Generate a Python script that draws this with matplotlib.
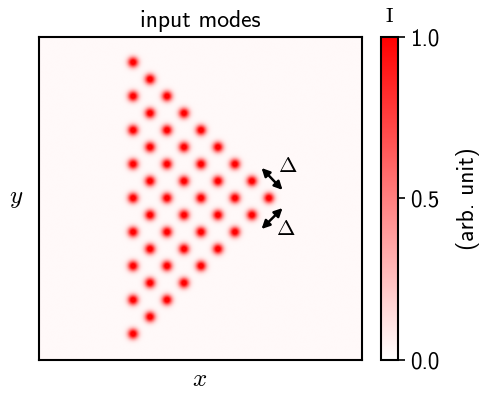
import numpy as np
import matplotlib
matplotlib.use('agg')
import matplotlib.pyplot as plt
from matplotlib.colors import LinearSegmentedColormap

plt.rcParams['mathtext.fontset'] = 'cm'
plt.rcParams['font.family'] = 'cmss10'
plt.rcParams['axes.unicode_minus'] = False

# triangular lattice of input modes, read column by column
col_x = [-0.42, -0.315, -0.21, -0.105, 0.0, 0.105, 0.21, 0.315, 0.42]
col_counts = [9, 8, 7, 6, 5, 4, 3, 2, 1]
row_pitch = 0.21
spot_sigma = 0.022
spot_peak = 1.15
background = 0.025

cbar_ticks = [0.0, 0.5, 1.0]

# build the intensity map
grid = np.linspace(-1, 1, 500)
X, Y = np.meshgrid(grid, grid)
intensity = np.full_like(X, background)
for cx, n in zip(col_x, col_counts):
    for k in range(n):
        cy = (k - (n - 1) / 2) * row_pitch
        intensity += spot_peak * np.exp(-((X - cx) ** 2 + (Y - cy) ** 2) / (2 * spot_sigma ** 2))
intensity = np.clip(intensity, 0, 1)

cmap = LinearSegmentedColormap.from_list('wr', ['#ffffff', '#ff0000'])

fig = plt.figure(figsize=(4.83, 3.93), dpi=100)
ax = fig.add_axes([0.0787, 0.084, 0.6708, 0.8219])
cax = fig.add_axes([0.7888, 0.084, 0.0352, 0.8219])

im = ax.imshow(intensity, cmap=cmap, vmin=0, vmax=1, extent=[-1, 1, -1, 1],
               origin='lower', interpolation='bilinear')
ax.set_xticks([])
ax.set_yticks([])
for s in ax.spines.values():
    s.set_linewidth(1.5)
ax.set_title('input modes', fontsize=17, pad=7)
ax.set_xlabel('$x$', fontsize=18, labelpad=6)
ax.set_ylabel('$y$', fontsize=18, rotation=0, labelpad=16, va='center')

# spacing arrows
arrow = dict(arrowstyle='<|-|>', color='black', lw=1.8, mutation_scale=12,
             shrinkA=0, shrinkB=0)
ax.annotate('', xy=(0.381, 0.189), xytext=(0.511, 0.053), arrowprops=arrow)
ax.annotate('', xy=(0.511, -0.059), xytext=(0.381, -0.189), arrowprops=arrow)
ax.text(0.48, 0.20, r'$\Delta$', fontsize=16, ha='left', va='center')
ax.text(0.47, -0.195, r'$\Delta$', fontsize=16, ha='left', va='center')

cb = fig.colorbar(im, cax=cax, ticks=cbar_ticks)
cb.outline.set_linewidth(1.5)
cb.ax.tick_params(labelsize=16.5, width=1.2, length=5)
cb.set_label('(arb. unit)', fontsize=17, labelpad=12)
cax.set_title(r'$\mathrm{I}$', fontsize=15, pad=11)

fig.savefig('out.png', dpi=100)
